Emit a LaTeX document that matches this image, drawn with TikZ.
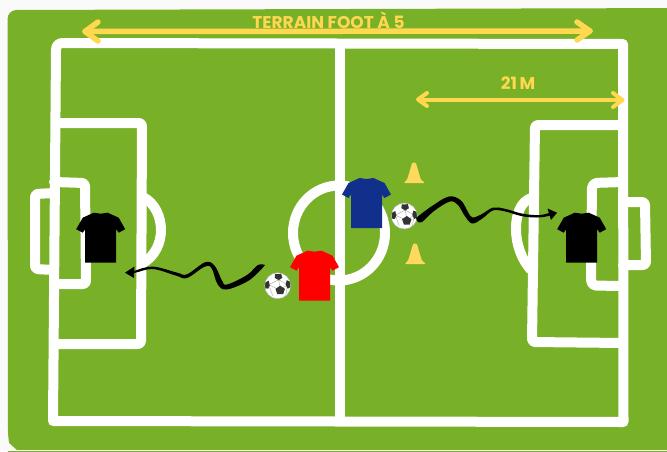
\documentclass[tikz,border=0pt]{standalone}
\usepackage{fontspec}
\setmainfont{Poppins}
\definecolor{pitch}{HTML}{78B028}
\definecolor{paper}{HTML}{FAFAFA}
\definecolor{gold}{HTML}{FFD84F}
\definecolor{conecol}{HTML}{FFD95E}
\definecolor{navy}{HTML}{11308C}
\definecolor{ballblack}{HTML}{333333}
\tikzset{
  fieldline/.style={draw=white,line width=10pt,line cap=round,line join=round},
  goldline/.style={draw=gold,line width=5.5pt,line cap=round,line join=round},
  goldlabel/.style={text=gold,font=\bfseries\fontsize{17}{18}\selectfont,inner sep=0pt},
  pics/shirt/.style={code={
    \fill[#1] (-24.5,16.5) -- (-18,20) -- (-15.5,16.5) -- (-15.5,50) -- (15.5,50) -- (15.5,16.5) -- (18,20) -- (24.5,16.5)
      -- (18,5) -- (7,0) -- (0,1) -- (-7,0) -- (-18,5) -- cycle;
  }},
  pics/ball/.style={code={
    \fill[white] (0,0) circle[radius=13];
    \draw[gray!70,line width=.4pt] (2.5,4.5) -- (1,-6) (2.5,4.5) -- (-9,-1) (2.5,4.5) -- (10,-1) (1,-6) -- (-9,-1) (1,-6) -- (10,-1) (-9,-1) -- (-5,10) (10,-1) -- (8,10);
    \fill[ballblack] (2.5,0) -- (7.2,3.2) -- (5.4,8.5) -- (-.4,8.5) -- (-2.2,3.2) -- cycle;
    \fill[ballblack] (-2.5,-11.5) -- (3.5,-11.8) -- (4.6,-7.8) -- (1,-5.6) -- (-3,-7.8) -- cycle;
    \fill[ballblack] (-12.8,-3) -- (-9,-5) -- (-8,-.5) -- (-9.5,3) -- (-12.6,2.5) -- cycle;
    \fill[ballblack] (9,-5.5) -- (12.5,-4) -- (12.8,1.5) -- (10,3) -- (8,-1) -- cycle;
    \draw[gray!60,line width=.4pt] (0,0) circle[radius=13];
  }},
  pics/cone/.style={code={
    \fill[conecol,rounded corners=1.2pt] (-1.8,0) -- (1.8,0) -- (6.8,17) -- (11,20.5) -- (-10.5,20.5) -- (-6.8,17) -- cycle;
  }}
}
\begin{document}
\begin{tikzpicture}[x=1pt,y=-1pt]
\useasboundingbox (0,0) rectangle (667,451);
\fill[paper] (0,0) rectangle (667,451);
% pitch
\fill[pitch,rounded corners=9pt] (7.5,10) -- (690,8) -- (690,470) -- (8,470) -- cycle;
\fill[pitch] (18,440) rectangle (667,450);
\fill[pitch] (660,8) rectangle (667,450);
\fill[paper] (0,450.3) rectangle (667,451);
\fill[paper] (0,0) rectangle (667,8);
\fill[paper] (0,440) -- (7.5,430) -- (9,443) -- (17,450.3) -- (0,450.3) -- cycle;
% outer field
\draw[fieldline] (340,43.5) -- (63,43) .. controls (58.5,43) and (56,45.5) .. (56,50) -- (53,421) -- (340,421.5) -- (623.5,422) -- (623,44) -- cycle;
\draw[fieldline] (340,44) -- (340,421);
% center circle
\draw[fieldline] (339,233) ellipse[x radius=46,y radius=47.5];
% left areas
\draw[fieldline,rounded corners=3pt] (56,123) -- (142,123) -- (141,344) -- (54,344);
\draw[fieldline,rounded corners=3pt] (54,182) -- (85,183) -- (86,284) -- (54,284);
\draw[fieldline,rounded corners=3pt] (54,193) -- (35,194) -- (35,269) -- (54,270);
\draw[fieldline,line cap=butt] (143,197) .. controls (155,203) and (161,217) .. (161,230) .. controls (161,243) and (155,256) .. (143,263);
% right areas
\draw[fieldline,rounded corners=3pt] (623,125) -- (535,125) -- (532,342) -- (623,343);
\draw[fieldline,rounded corners=5pt] (623,182) -- (592,183) -- (591,285.5) -- (623,286);
\draw[fieldline,rounded corners=3pt] (623,202) -- (645,202) -- (646,265) -- (623,265);
\draw[fieldline,line cap=butt] (531,198) .. controls (521,202) and (516,213) .. (516,229) .. controls (516,245) and (522,260) .. (531,270);
% dimension arrows
\draw[goldline] (85,31.5) -- (590,31);
\draw[goldline] (98,22) -- (85,31.5) -- (98,41);
\draw[goldline] (577,22) -- (590,31) -- (577,40);
\node[goldlabel] (title) at (328.5,20) {TERRAIN FOOT À 5};
\draw[goldline,line width=4pt] (419,100) -- (622,100);
\draw[goldline,line width=4pt] (427,93) -- (418,99.5) -- (427,106);
\draw[goldline,line width=4pt] (613,93) -- (622.5,100) -- (613,107);
\node[goldlabel] (dist) at (518,83) {21\hspace{2.5pt}M};
% cones
\pic at (414,162.5) {cone};
\pic at (415,243.5) {cone};
% shirts
\pic at (100.7,212.7) {shirt=black};
\pic at (581.7,212.7) {shirt=black};
\pic at (314.5,250.7) {shirt=red};
\pic at (366.5,178) {shirt=navy};
% balls
\pic at (277.7,285.7) {ball};
\pic at (404.3,216) {ball};
% dribble arrows
\fill[black] plot[smooth,tension=.6] coordinates {(416,218) (432,206) (449,196.5) (461,200.5) (468,212) (472.5,217.5) (482,214) (493,207.6) (505,208.8) (523,213.8) (540,215) (552,212.3)
  (552.5,214.7) (540,217.4) (523,216.4) (505,211.4) (493,210.4) (483,218) (472,223.5) (463.5,214) (458.5,205.5) (450,201.5) (434,211) (422,222) (417,221)};
\fill[black] (557,212.7) -- (547.5,208.5) -- (551,220) -- cycle;
\fill[black] plot[smooth,tension=.6] coordinates {(265,265) (258,265) (247,275) (227,284.5) (222,280.5) (214.5,265.5) (205,262.3) (187,274.3) (177,272.6) (153,266.6) (135,270.7)
  (135,272.8) (153,269) (176,275.6) (187,278) (204,267) (211.5,268) (217.5,284) (226.5,289.5) (248,281) (262,268.5)};
\fill[black] (125,272.7) -- (134.5,266.5) -- (134,278) -- cycle;
\end{tikzpicture}
\end{document}
